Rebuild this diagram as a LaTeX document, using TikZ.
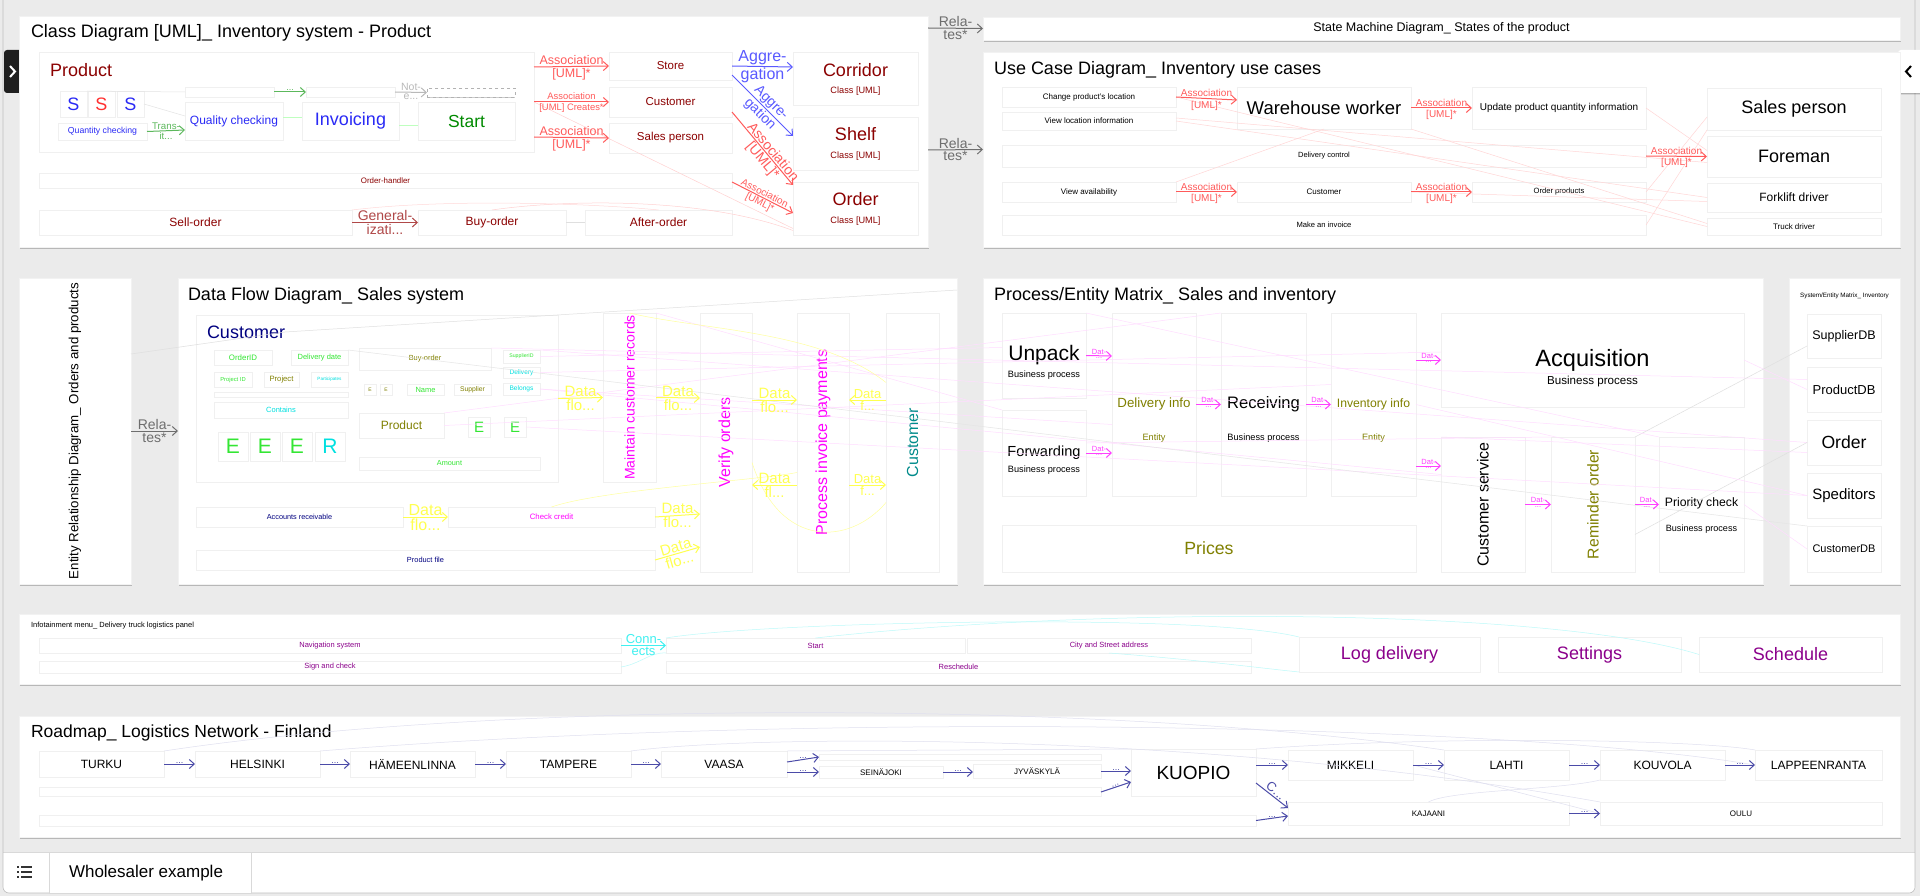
\documentclass[tikz,border=0pt]{standalone}
\usepackage{fontspec}
\setmainfont{Liberation Sans}
\usetikzlibrary{arrows.meta,shadows}
\definecolor{bgc}{HTML}{EBEBEB}
\definecolor{dred}{HTML}{8B0000}
\definecolor{genred}{HTML}{B04848}
\definecolor{assoc}{HTML}{FF5A5A}
\definecolor{aggb}{HTML}{5A5AFF}
\definecolor{sblue}{HTML}{2A2AF5}
\definecolor{sred}{HTML}{FF3030}
\definecolor{sgreen}{HTML}{008A00}
\definecolor{tgreen}{HTML}{5CB85C}
\definecolor{dgreen}{HTML}{33E633}
\definecolor{dcyan}{HTML}{00E0E0}
\definecolor{cOlive}{HTML}{808000}
\definecolor{cNavy}{HTML}{000080}
\definecolor{cMag}{HTML}{FF00FF}
\definecolor{dyel}{HTML}{FFFF50}
\definecolor{cTeal}{HTML}{008B8B}
\definecolor{pmag}{HTML}{FF40FF}
\definecolor{ipurp}{HTML}{8B008B}
\definecolor{icyan}{HTML}{40F0F0}
\definecolor{road}{HTML}{4B4BA8}
\definecolor{relg}{HTML}{6E6E6E}
\newcommand\fz[1]{\fontsize{#1}{#1}\selectfont}
\newcommand\bx[7][box]{\node[#1,minimum width={(#5)-(#3)},minimum height={(#6)-(#4)}] (#2) at ({((#3)+(#5))/2},{((#4)+(#6))/2}) {#7};}
\begin{document}
\begin{tikzpicture}[x=1pt,y=-1pt,
 box/.style={draw=black!6, fill=white, inner sep=0pt, outer sep=0pt, align=center, font=\fz{8},
   drop shadow={shadow xshift=0.3pt, shadow yshift=-1.3pt, opacity=0.2, fill=black}},
 panel/.style={draw=black!5, fill=white, inner sep=0pt, outer sep=0pt, align=center,
   drop shadow={shadow xshift=0.6pt, shadow yshift=-1.6pt, opacity=0.22, fill=black}},
 ar/.style={color=#1, line width=1pt, -{Straight Barb[length=5pt,width=9pt]}},
 fl/.style={draw=#1, line width=0.5pt},
 tl/.style={inner sep=0pt, outer sep=0pt, anchor=west},
 tx/.style={inner sep=0pt, outer sep=0pt},
 la/.style={inner sep=0.5pt, font=\fz{#1}},
]
\useasboundingbox (0,0) rectangle (1920,896);
\fill[bgc] (0,0) rectangle (1920,896);
% bottom bar and frame
\fill[white] (3,852) rectangle (1915,886);
\fill[white,rounded corners=6pt] (3,878) rectangle (1915,893);
\draw[black!15] (3,852) -- (1915,852);
\draw[black!25, line width=.6pt, rounded corners=6pt] (3,-5) -- (3,893) -- (1915,893) -- (1915,-5);
\bx[draw=black!15,fill=white,inner sep=0pt]{wTab}{49}{852}{251}{893}{}
\node[tl,font=\fz{17}] (wText) at (69,873) {Wholesaler example};
\foreach \yy in {867,872,877}{
  \fill[black!80] (16.5,\yy-1.2) rectangle (19,\yy+1.2);
  \fill[black!80] (21,\yy-1) rectangle (32,\yy+1);
}
% side tabs
\fill[black!88, rounded corners=3pt] (4,50) rectangle (22,93);
\draw[white, line width=2pt] (10,66) -- (15,71.5) -- (10,77);
\fill[white, rounded corners=3pt, drop shadow={shadow xshift=-0.5pt,shadow yshift=-1.5pt,opacity=0.25,fill=black}] (1898,50) rectangle (1925,93);
\draw[black, line width=2pt] (1911,66) -- (1906,71.5) -- (1911,77);

% ================= CLASS DIAGRAM =================
\bx[panel]{pClass}{19}{16}{928}{247}{}
\node[tl,font=\fz{18}] (tClass) at (31,33) {Class Diagram [UML]\_ Inventory system - Product};
\bx{bProduct}{39}{52}{534}{152}{}
\node[tl,font=\fz{18},text=dred] (tProduct) at (50,70) {Product};
\bx[box,font=\fz{18},text=sblue]{S1}{60}{91}{87}{117}{S}
\bx[box,font=\fz{18},text=sred]{S2}{88}{91}{115}{117}{S}
\bx[box,font=\fz{18},text=sblue]{S3}{117}{91}{144}{117}{S}
\bx[box,font=\fz{8.7},text=sblue]{bQty}{58}{123}{147}{140}{Quantity checking}
\bx{bTop1}{185}{87}{274}{97}{}
\bx[box,font=\fz{12},text=sblue]{bQual}{185}{102}{283}{140}{Quality checking}
\bx{bTop2}{306}{87}{395}{97}{}
\bx[box,font=\fz{18},text=sblue]{bInv}{302}{102}{399}{140}{Invoicing}
\bx[box,draw=black!30,dashed]{bTop3}{427}{88}{515}{97}{}
\bx[box,font=\fz{17.5},text=sgreen]{bStart}{418}{102}{515}{140}{Start}
\draw[fl=gray!22] (S1.north east) -- (bTop1.west);
\draw[fl=gray!22] (S3.east) -- ([yshift=5pt]bQual.west);
\draw[fl=green!25] ([yshift=4pt]bQual.east) -- ([yshift=4pt]bInv.west);
\draw[fl=green!25] ([yshift=-4pt]bInv.east) -- ([yshift=-4pt]bStart.west);
\draw[ar=tgreen] (bQty.east) -- ([yshift=-9pt]bQual.west) node[midway,above=0.5pt,la=9.7]{Trans-} node[midway,below=0.5pt,la=9.7]{it...};
\draw[ar=tgreen] (bTop1.east) -- (bTop2.west) node[midway,above=0pt,la=9]{...};
\draw[ar=gray!55] (bTop2.east) -- (bTop3.west) node[midway,above=0.5pt,la=10.5]{Not-} node[midway,below=0.5pt,la=10.5]{e...};

\bx[box,font=\fz{7.9},text=dred]{bOH}{39}{173}{732}{188}{Order-handler}
\bx[box,font=\fz{12},text=dred]{bSell}{39}{210}{352}{235}{Sell-order}
\bx[box,font=\fz{12},text=dred]{bBuy}{418}{210}{566}{235}{Buy-order}
\bx[box,font=\fz{12},text=dred]{bAfter}{585}{210}{732}{235}{After-order}
\draw[ar=genred] (bSell.east) -- (bBuy.west) node[midway,above=0.5pt,la=14]{General-} node[midway,below=0.5pt,la=14]{izati...};
\draw[fl=gray!25] (bBuy.east) -- (bAfter.west);

\bx[box,font=\fz{11.5},text=dred]{bStore}{609}{52}{732}{80}{Store}
\bx[box,font=\fz{11.5},text=dred]{bCust}{609}{87}{732}{117}{Customer}
\bx[box,font=\fz{11.5},text=dred]{bSales}{609}{123}{732}{153}{Sales person}
\bx{bCorr}{793}{52}{918}{105}{}
\node[tx,font=\fz{18},text=dred] (tCorr) at (855.5,70) {Corridor};
\node[tx,font=\fz{9.2},text=dred] (sCorr) at (855.5,91) {Class [UML]};
\bx{bShelf}{793}{117}{918}{170}{}
\node[tx,font=\fz{18},text=dred] (tShelf) at (855.5,134) {Shelf};
\node[tx,font=\fz{9.2},text=dred] (sShelf) at (855.5,156) {Class [UML]};
\bx{bOrder}{793}{182}{918}{235}{}
\node[tx,font=\fz{18},text=dred] (tOrder) at (855.5,199) {Order};
\node[tx,font=\fz{9.2},text=dred] (sOrder) at (855.5,221) {Class [UML]};

\draw[fl=red!18] (bProduct.east) -- ([yshift=-20pt]bOrder.west);
\draw[fl=red!18] (bBuy.north) .. controls (560,200) and (700,196) .. ([yshift=-22pt]bOrder.west);
\draw[fl=red!15] (bSell.north east) .. controls (450,198) and (600,204) .. (bAfter.north);

\draw[ar=assoc] ([yshift=35pt]bProduct.east) -- (bStore.west) node[midway,above=0.5pt,la=12.5]{Association} node[midway,below=0.5pt,la=12.5]{[UML]*};
\draw[ar=assoc] (bProduct.east) -- (bCust.west) node[midway,above=1pt,la=9.4]{Association} node[midway,below=1pt,la=9.4]{[UML] Creates*};
\draw[ar=assoc] ([yshift=-35pt]bProduct.east) -- (bSales.west) node[midway,above=0.5pt,la=12.5]{Association} node[midway,below=0.5pt,la=12.5]{[UML]*};
\draw[ar=aggb] (bStore.east) -- ([yshift=11.5pt]bCorr.west) node[midway,above=0.5pt,la=16]{Aggre-} node[midway,below=0.5pt,la=16]{gation};
\draw[ar=aggb] ([yshift=-9pt]bStore.east) -- ([yshift=7.5pt]bShelf.west) node[pos=0.55,sloped,above=0.5pt,la=14]{Aggre-} node[pos=0.55,sloped,below=0.5pt,la=14]{gation};
\draw[ar=assoc] ([yshift=26pt]bSales.east) -- ([yshift=23.5pt]bOrder.west) node[pos=0.6,sloped,above=0.5pt,la=14]{Association} node[pos=0.6,sloped,below=0.5pt,la=14]{[UML]*};
\draw[ar=assoc] ([yshift=-1.5pt]bOH.east) -- ([yshift=-4.5pt]bOrder.west) node[midway,sloped,above=0.5pt,la=10]{Association} node[midway,sloped,below=0.5pt,la=10]{[UML]*};

% ================= STATE MACHINE / USE CASE =================
\bx[panel,font=\fz{12.5}]{pSM}{983}{17}{1900}{40}{State Machine Diagram\_ States of the product}
\bx[panel]{pUC}{983}{52}{1900}{247}{}
\draw[ar=relg] ([yshift=103.5pt]pClass.east) -- (pSM.west) node[midway,above=0.5pt,la=14]{Rela-} node[midway,below=0.5pt,la=14]{tes*};
\draw[ar=relg] ([yshift=-18.5pt]pClass.east) -- (pUC.west) node[midway,above=0.5pt,la=14]{Rela-} node[midway,below=0.5pt,la=14]{tes*};
\node[tl,font=\fz{18}] (tUC) at (994,70) {Use Case Diagram\_ Inventory use cases};
\bx[box,font=\fz{8}]{uChange}{1002}{87}{1176}{107}{Change product's location}
\bx[box,font=\fz{8}]{uView}{1002}{112}{1176}{130}{View location information}
\bx[box,font=\fz{18.5}]{uWW}{1237}{87}{1411}{129}{Warehouse worker}
\bx[box,font=\fz{10}]{uUpd}{1472}{87}{1646}{129}{Update product quantity information}
\bx[box,font=\fz{7.5}]{uDel}{1002}{145}{1646}{167}{Delivery control}
\bx[box,font=\fz{8}]{uAvail}{1002}{182}{1176}{202}{View availability}
\bx[box,font=\fz{8}]{uCust}{1237}{182}{1411}{202}{Customer}
\bx[box,font=\fz{7.6}]{uOrdP}{1472}{182}{1646}{202}{Order products}
\bx[box,font=\fz{7.6}]{uInv}{1002}{215}{1646}{235}{Make an invoice}
\bx[box,font=\fz{18}]{uSP}{1707}{88}{1881}{130}{Sales person}
\bx[box,font=\fz{18}]{uFore}{1707}{136}{1881}{177}{Foreman}
\bx[box,font=\fz{12}]{uFork}{1707}{183}{1881}{212}{Forklift driver}
\bx[box,font=\fz{8}]{uTruck}{1707}{218}{1881}{235}{Truck driver}
\draw[fl=red!16] (uChange.east) -- (uTruck.west);
\draw[fl=red!16] (uView.east) -- (uFork.west);
\draw[fl=red!16] ([yshift=3pt]uView.east) -- ([yshift=-6pt]uFore.west);
\draw[fl=red!16] (uUpd.east) -- ([yshift=6pt]uFore.west);
\draw[fl=red!16] (uOrdP.east) -- ([yshift=-8pt]uSP.west);
\draw[fl=red!16] (uInv.east) -- (uSP.south west);
\draw[fl=red!16] (uCust.east) -- ([yshift=-4pt]uFork.west);
\draw[fl=red!16] (uWW.south east) -- ([yshift=3pt]uTruck.west);
\draw[fl=red!16] (uAvail.north east) -- (uWW.south);
\draw[ar=assoc] (uChange.east) -- ([yshift=8pt]uWW.west) node[midway,above=0.5pt,la=10]{Association} node[midway,below=1.5pt,la=10]{[UML]*};
\draw[ar=assoc] (uWW.east) -- (uUpd.west) node[midway,above=0.5pt,la=10]{Association} node[midway,below=1.5pt,la=10]{[UML]*};
\draw[ar=assoc] (uAvail.east) -- (uCust.west) node[midway,above=0.5pt,la=10]{Association} node[midway,below=1.5pt,la=10]{[UML]*};
\draw[ar=assoc] (uCust.east) -- (uOrdP.west) node[midway,above=0.5pt,la=10]{Association} node[midway,below=1.5pt,la=10]{[UML]*};
\draw[ar=assoc] (uDel.east) -- (uFore.west) node[midway,above=0.5pt,la=10]{Association} node[midway,below=1.5pt,la=10]{[UML]*};

% ================= ERD / DFD =================
\bx[panel]{pERD}{19}{278}{131}{584}{\rotatebox{90}{\fz{13.3}Entity Relationship Diagram\_ Orders and products}}
\bx[panel]{pDFD}{178}{278}{957}{584}{}
\draw[ar=relg] (pERD.east) -- (pDFD.west) node[midway,above=0.5pt,la=14]{Rela-} node[midway,below=0.5pt,la=14]{tes*};
\node[tl,font=\fz{18}] (tDFD) at (188,296) {Data Flow Diagram\_ Sales system};
\bx{dCustBox}{196}{315}{558}{482}{}
\node[tl,font=\fz{18},text=cNavy] (tDCust) at (207,332) {Customer};
\bx[box,font=\fz{7.9},text=dgreen]{dOID}{214}{350}{272}{365}{OrderID}
\bx[box,font=\fz{7.5},text=dgreen]{dDD}{291}{350}{348}{365}{Delivery date}
\bx[box,font=\fz{5.8},text=dgreen]{dPID}{214}{372}{252}{387}{Project ID}
\bx[box,font=\fz{7.7},text=cOlive]{dProj}{264}{372}{299}{387}{Project}
\bx[box,font=\fz{4.6},text=dcyan]{dPart}{311}{372}{348}{387}{Participates}
\bx{dThin}{214}{392}{348}{397}{}
\bx[box,font=\fz{7.5},text=dcyan]{dCont}{214}{402}{348}{418}{Contains}
\bx[box,font=\fz{21},text=dgreen]{dE1}{218}{432}{248}{461}{E}
\bx[box,font=\fz{21},text=dgreen]{dE2}{250}{432}{280}{461}{E}
\bx[box,font=\fz{21},text=dgreen]{dE3}{282}{432}{312}{461}{E}
\bx[box,font=\fz{21},text=dcyan]{dR}{315}{432}{345}{461}{R}
\bx[box,font=\fz{7.4},text=cOlive]{dBuy}{359}{348}{491}{370}{Buy-order}
\bx[box,font=\fz{5.2},text=dgreen]{dSID}{503}{350}{540}{363}{SupplierID}
\bx[box,font=\fz{6.6},text=dcyan]{dDeliv}{503}{367}{540}{378}{Delivery}
\bx[box,font=\fz{6.6},text=dcyan]{dBel}{503}{383}{540}{395}{Belongs}
\bx[box,font=\fz{5},text=cOlive]{dEa}{364}{384}{376}{395}{E}
\bx[box,font=\fz{5},text=cOlive]{dEb}{380}{384}{392}{395}{E}
\bx[box,font=\fz{7.5},text=dgreen]{dName}{407}{384}{444}{395}{Name}
\bx[box,font=\fz{6.8},text=cOlive]{dSup}{454}{384}{491}{395}{Supplier}
\bx[box,font=\fz{12},text=cOlive]{dProd}{359}{413}{444}{438}{Product}
\bx[box,font=\fz{15},text=dgreen]{dE4}{468}{417}{490}{437}{E}
\bx[box,font=\fz{15},text=dgreen]{dE5}{504}{417}{526}{437}{E}
\bx[box,font=\fz{7.3},text=dgreen]{dAmt}{359}{457}{540}{470}{Amount}
\bx[box,font=\fz{7.3},text=cNavy]{dAcc}{196}{507}{403}{527}{Accounts receivable}
\bx[box,font=\fz{7.8},text=cMag]{dCheck}{448}{507}{655}{527}{Check credit}
\bx[box,font=\fz{7.4},text=cNavy]{dPF}{196}{550}{655}{570}{Product file}
\bx[box,text=cMag]{dMaint}{603}{313}{656}{482}{\rotatebox{90}{\fz{14}Maintain customer records}}
\bx[box,text=cMag]{dVer}{700}{313}{752}{572}{\rotatebox{90}{\fz{16}Verify orders}}
\bx[box,text=cMag]{dProc}{797}{313}{849}{572}{\rotatebox{90}{\fz{16}Process invoice payments}}
\bx[box,text=cTeal]{dCustV}{886}{313}{939}{572}{\rotatebox{90}{\fz{16}Customer}}

% ================= PROCESS / ENTITY =================
\bx[panel]{pPE}{983}{278}{1763}{584}{}
\node[tl,font=\fz{18}] (tPE) at (994,296) {Process/Entity Matrix\_ Sales and inventory};
\bx[box,font=\fz{21}]{eUnpack}{1002}{313}{1086}{398}{Unpack}
\node[tx,font=\fz{9.2}] (eUnpackS) at (1044,375) {Business process};
\bx[box,font=\fz{14.6}]{eFwd}{1002}{410}{1086}{496}{Forwarding}
\node[tx,font=\fz{9.2}] (eFwdS) at (1044,470) {Business process};
\bx[box,font=\fz{13.3},text=cOlive]{eDel}{1112}{313}{1196}{496}{Delivery info}
\node[tx,font=\fz{9.2},text=cOlive] (eDelS) at (1154,438) {Entity};
\bx[box,font=\fz{16.6}]{eRecv}{1221}{313}{1306}{496}{Receiving}
\node[tx,font=\fz{9.2}] (eRecvS) at (1263.5,438) {Business process};
\bx[box,font=\fz{12.2},text=cOlive]{eInvI}{1331}{313}{1416}{496}{Inventory info}
\node[tx,font=\fz{9.2},text=cOlive] (eInvIS) at (1373.5,438) {Entity};
\bx[box,font=\fz{23.6}]{eAcq}{1441}{313}{1744}{407}{Acquisition}
\node[tx,font=\fz{11.6}] (eAcqS) at (1592.5,381) {Business process};
\bx[box]{eCS}{1441}{437}{1525}{572}{\rotatebox{90}{\fz{16}Customer service}}
\bx[box,text=cOlive]{eRem}{1551}{437}{1635}{572}{\rotatebox{90}{\fz{15.7}Reminder order}}
\bx{ePrio}{1659}{437}{1744}{572}{}
\node[tx,font=\fz{12.2}] (ePrioT) at (1701.5,503) {Priority check};
\node[tx,font=\fz{9.1}] (ePrioS) at (1701.5,529) {Business process};
\bx[box,font=\fz{17.7},text=cOlive]{ePrices}{1002}{525}{1416}{572}{Prices}

% ================= SYSTEM / ENTITY =================
\bx[panel]{pSE}{1789}{278}{1900}{584}{}
\node[tx,font=\fz{6.3}] (tSE) at (1844.5,296) {System/Entity Matrix\_ Inventory};
\bx[box,font=\fz{12.5}]{sSup}{1807}{314}{1881}{358}{SupplierDB}
\bx[box,font=\fz{13}]{sProd}{1807}{367}{1881}{412}{ProductDB}
\bx[box,font=\fz{17.6}]{sOrd}{1807}{420}{1881}{465}{Order}
\bx[box,font=\fz{15}]{sSped}{1807}{473}{1881}{518}{Speditors}
\bx[box,font=\fz{11}]{sCust}{1807}{526}{1881}{572}{CustomerDB}

% faint cross connectors
\draw[fl=gray!25] ([yshift=77pt]pERD.east) -- (tDCust.east) -- ([yshift=-12pt]pDFD.north east);
\draw[fl=pmag!18] (dSID.east) -- ([yshift=8pt]eUnpack.west);
\draw[fl=pmag!18] (dDeliv.east) -- ([yshift=8pt]eAcq.west);
\draw[fl=pmag!18] (dBel.east) -- ([yshift=-20pt]eDel.west);
\draw[fl=pmag!18] (dProd.north east) -- (eRecv.north west);
\draw[fl=pmag!18] (dProd.east) -- ([yshift=20pt]eInvI.west);
\draw[fl=pmag!18] (dBuy.north east) -- ([yshift=10pt]sProd.west);
\draw[fl=pmag!18] (dBel.east) -- ([yshift=30pt]eCS.west);
\draw[fl=pmag!18] (dE5.east) -- (sSped.west);
\draw[fl=pmag!18] (dSID.north east) -- (sOrd.west);
\draw[fl=pmag!18] (dMaint.north east) -- (eFwd.north west);
\draw[fl=gray!20] (dDD.north east) -- (sCust.north west);
\draw[fl=dyel!55] (dMaint.north) .. controls (700,330) and (820,330) .. ([yshift=60pt]dCustV.west);
\draw[fl=dyel!55] (dCheck.north) .. controls (600,490) and (760,480) .. ([yshift=-30pt]dProc.west);
\draw[fl=dyel!55] ([yshift=-20pt]dVer.east) .. controls (780,550) and (850,545) .. ([yshift=-60pt]dCustV.west);
\draw[fl=pmag!18] (eAcq.east) -- (sProd.west);
\draw[fl=gray!25] (eRem.north east) -- ([yshift=-10pt]sSup.west);
\draw[fl=gray!25] ([yshift=-30pt]eRem.east) -- (sOrd.west);
\draw[fl=pmag!18] (eCS.north west) -- ([yshift=-10pt]sOrd.west);
\draw[fl=pmag!18] (eInvI.east) -- (sSped.west);
\draw[fl=pmag!18] (ePrio.east) -- (sCust.west);
\draw[fl=pmag!18] (eUnpack.north east) -- (ePrio.north west);
\draw[fl=pmag!18] ([yshift=10pt]eFwd.east) -- (eRem.north west);

% DFD arrows
\draw[ar=dyel] (dCustBox.east) -- (dMaint.west) node[midway,above=0.5pt,la=15]{Data} node[midway,below=0.5pt,la=15]{flo...};
\draw[ar=dyel] (dMaint.east) -- ([yshift=44.5pt]dVer.west) node[midway,above=0.5pt,la=15]{Data} node[midway,below=0.5pt,la=15]{flo...};
\draw[ar=dyel] ([yshift=42.5pt]dVer.east) -- ([yshift=42.5pt]dProc.west) node[midway,above=0.5pt,la=15]{Data} node[midway,below=0.5pt,la=15]{flo...};
\draw[ar=dyel] ([yshift=-42.5pt]dProc.west) -- ([yshift=-42.5pt]dVer.east) node[midway,above=0.5pt,la=15]{Data} node[midway,below=0.5pt,la=15]{fl...};
\draw[ar=dyel] ([yshift=42.5pt]dCustV.west) -- ([yshift=42.5pt]dProc.east) node[midway,above=0.5pt,la=13]{Data} node[midway,below=0.5pt,la=13]{f...};
\draw[ar=dyel] ([yshift=-42.5pt]dProc.east) -- ([yshift=-42.5pt]dCustV.west) node[midway,above=0.5pt,la=13]{Data} node[midway,below=0.5pt,la=13]{f...};
\draw[ar=dyel] (dAcc.east) -- (dCheck.west) node[midway,above=0.5pt,la=16]{Data} node[midway,below=0.5pt,la=16]{flo...};
\draw[ar=dyel] (dCheck.east) -- ([yshift=-71.5pt]dVer.west) node[midway,above=0.5pt,la=15]{Data} node[midway,below=0.5pt,la=15]{flo...};
\draw[ar=dyel] (dPF.east) -- ([yshift=-104.5pt]dVer.west) node[midway,sloped,above=0.5pt,la=15]{Data} node[midway,sloped,below=0.5pt,la=15]{flo...};

% PE arrows
\draw[ar=pmag] (eUnpack.east) -- ([yshift=48.5pt]eDel.west) node[midway,above=0.5pt,la=7.5]{Dat-} node[midway,below=1pt,la=7.5]{...};
\draw[ar=pmag] (eFwd.east) -- ([yshift=-48.5pt]eDel.west) node[midway,above=0.5pt,la=7.5]{Dat-} node[midway,below=1pt,la=7.5]{...};
\draw[ar=pmag] (eDel.east) -- (eRecv.west) node[midway,above=0.5pt,la=7.5]{Dat-} node[midway,below=1pt,la=7.5]{...};
\draw[ar=pmag] (eRecv.east) -- (eInvI.west) node[midway,above=0.5pt,la=7.5]{Dat-} node[midway,below=1pt,la=7.5]{...};
\draw[ar=pmag] ([yshift=44.5pt]eInvI.east) -- (eAcq.west) node[midway,above=0.5pt,la=7.5]{Dat-} node[midway,below=1pt,la=7.5]{...};
\draw[ar=pmag] ([yshift=-61.5pt]eInvI.east) -- ([yshift=38.5pt]eCS.west) node[midway,above=0.5pt,la=7.5]{Dat-} node[midway,below=1pt,la=7.5]{...};
\draw[ar=pmag] (eCS.east) -- (eRem.west) node[midway,above=0.5pt,la=7.5]{Dat-} node[midway,below=1pt,la=7.5]{...};
\draw[ar=pmag] (eRem.east) -- (ePrio.west) node[midway,above=0.5pt,la=7.5]{Dat-} node[midway,below=1pt,la=7.5]{...};

% ================= INFOTAINMENT =================
\bx[panel]{pInfo}{19}{614}{1900}{684}{}
\node[tl,font=\fz{7.5}] (tInfo) at (31,626) {Infotainment menu\_ Delivery truck logistics panel};
\bx[box,font=\fz{7.5},text=ipurp]{iNav}{39}{638}{621}{653}{Navigation system}
\bx[box,font=\fz{7.5},text=ipurp]{iSign}{39}{661}{621}{673}{Sign and check}
\bx[box,font=\fz{7.5},text=ipurp]{iStart}{666}{638}{965}{653}{Start}
\bx[box,font=\fz{7.5},text=ipurp]{iCity}{967}{638}{1251}{653}{City and Street address}
\bx[box,font=\fz{7.5},text=ipurp]{iResch}{666}{661}{1251}{673}{Reschedule}
\bx[box,font=\fz{18},text=ipurp]{iLog}{1299}{637}{1480}{672}{Log delivery}
\bx[box,font=\fz{18},text=ipurp]{iSet}{1498}{637}{1681}{672}{Settings}
\bx[box,font=\fz{18},text=ipurp]{iSched}{1699}{637}{1882}{672}{Schedule}
\draw[fl=icyan!35] (iStart.north west) .. controls (760,622) and (1200,612) .. (iLog.north west);
\draw[fl=icyan!35] (iStart.north) .. controls (1100,606) and (1550,608) .. (iSched.west);
\draw[fl=icyan!35] (iSign.east) .. controls (640,664) and (650,652) .. (iStart.south west);
\draw[fl=icyan!35] (iCity.south) .. controls (1200,660) and (1260,668) .. (iLog.south west);
\draw[ar=icyan] (iNav.east) -- (iStart.west) node[midway,above=0.5pt,la=13]{Conn-} node[midway,below=0.5pt,la=13]{ects};

% ================= ROADMAP =================
\bx[panel]{pRoad}{19}{716}{1900}{837}{}
\node[tl,font=\fz{17.5}] (tRoad) at (31,733) {Roadmap\_ Logistics Network - Finland};
\bx[box,font=\fz{12}]{rTurku}{39}{751}{164}{777}{TURKU}
\bx[box,font=\fz{12}]{rHel}{195}{751}{320}{777}{HELSINKI}
\bx[box,font=\fz{12}]{rHam}{350}{751}{475}{777}{HÄMEENLINNA}
\bx[box,font=\fz{12}]{rTam}{506}{751}{631}{777}{TAMPERE}
\bx[box,font=\fz{12}]{rVaa}{661}{751}{787}{777}{VAASA}
\bx{rThin1}{819}{754}{1101}{760}{}
\bx[box,font=\fz{8}]{rSei}{819}{766}{943}{778}{SEINÄJOKI}
\bx[box,font=\fz{8}]{rJyv}{973}{764}{1101}{778}{JYVÄSKYLÄ}
\bx{rThin2}{39}{787}{1101}{796}{}
\bx{rLow}{39}{815}{1256}{826}{}
\bx[box,font=\fz{19}]{rKuo}{1131}{749}{1256}{796}{KUOPIO}
\bx[box,font=\fz{12}]{rMik}{1288}{750}{1413}{780}{MIKKELI}
\bx[box,font=\fz{12}]{rLah}{1444}{750}{1569}{780}{LAHTI}
\bx[box,font=\fz{12}]{rKou}{1600}{750}{1725}{780}{KOUVOLA}
\bx[box,font=\fz{12}]{rLap}{1755}{750}{1882}{780}{LAPPEENRANTA}
\bx[box,font=\fz{8}]{rKaj}{1288}{802}{1569}{825}{KAJAANI}
\bx[box,font=\fz{8}]{rOulu}{1600}{802}{1882}{825}{OULU}
\draw[fl=road!18] (rTurku.north east) .. controls (500,700) and (1100,700) .. (rLah.north west);
\draw[fl=road!18] (rHel.north east) .. controls (800,712) and (1500,722) .. (rLap.west);
\draw[fl=road!18] (rTam.north east) .. controls (750,735) and (1200,730) .. (rOulu.north west);
\draw[fl=road!18] (rMik.east) -- (rOulu.west);
\draw[fl=road!18] (rKuo.north east) .. controls (1450,735) and (1700,740) .. (rLap.north west);
\draw[fl=road!18] (rKaj.north) .. controls (1450,790) and (1560,790) .. (rKou.south west);
\draw[fl=road!18] (rVaa.north east) -- (rKuo.north west);
\draw[ar=road] (rTurku.east) -- (rHel.west) node[midway,above=0pt,la=9]{...};
\draw[ar=road] (rHel.east) -- (rHam.west) node[midway,above=0pt,la=9]{...};
\draw[ar=road] (rHam.east) -- (rTam.west) node[midway,above=0pt,la=9]{...};
\draw[ar=road] (rTam.east) -- (rVaa.west) node[midway,above=0pt,la=9]{...};
\draw[ar=road] ([yshift=2pt]rVaa.east) -- (rThin1.west) node[midway,above=0pt,la=9]{...};
\draw[ar=road] ([yshift=-8pt]rVaa.east) -- (rSei.west) node[midway,above=0pt,la=9]{...};
\draw[ar=road] (rSei.east) -- ([yshift=-1pt]rJyv.west) node[midway,above=0pt,la=9]{...};
\draw[ar=road] (rJyv.east) -- ([yshift=1.5pt]rKuo.west) node[midway,above=0pt,la=9]{...};
\draw[ar=road] ([yshift=-0.5pt]rThin2.east) -- ([yshift=-9.5pt]rKuo.west) node[midway,sloped,above=0pt,la=9]{...};
\draw[ar=road] (rLow.east) -- ([yshift=-2.5pt]rKaj.west) node[midway,above=0pt,la=9]{...};
\draw[ar=road] ([yshift=7.5pt]rKuo.east) -- (rMik.west) node[midway,above=0pt,la=9]{...};
\draw[ar=road] ([yshift=-10.5pt]rKuo.east) -- ([yshift=5.5pt]rKaj.west) node[midway,sloped,above=0.5pt,la=13]{C...};
\draw[ar=road] (rMik.east) -- (rLah.west) node[midway,above=0pt,la=9]{...};
\draw[ar=road] (rLah.east) -- (rKou.west) node[midway,above=0pt,la=9]{...};
\draw[ar=road] (rKou.east) -- (rLap.west) node[midway,above=0pt,la=9]{...};
\draw[ar=road] (rKaj.east) -- (rOulu.west) node[midway,above=0pt,la=9]{...};
\end{tikzpicture}
\end{document}
